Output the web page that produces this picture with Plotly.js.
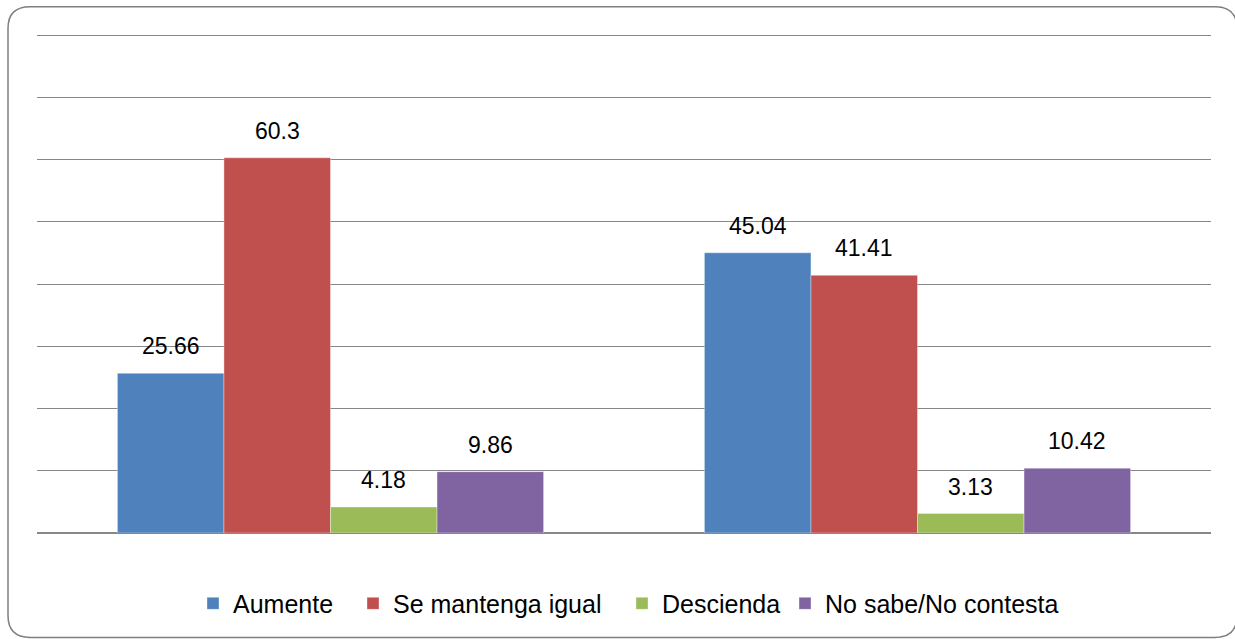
<!DOCTYPE html>
<html>
<head>
<meta charset="utf-8">
<script src="https://cdn.plot.ly/plotly-3.0.1.min.js"></script>
<style>html,body{margin:0;padding:0;background:#fff;}#chart{width:1235px;height:639px;}</style>
</head>
<body>
<div id="chart"></div>
<script>
const categories = ["Grupo 1", "Grupo 2"];
const seriesNames = ["Aumente", "Se mantenga igual", "Descienda", "No sabe/No contesta"];
const aumente = [25.66, 45.04];
const mantenga = [60.3, 41.41];
const descienda = [4.18, 3.13];
const noSabe = [9.86, 10.42];
const seriesValues = [aumente, mantenga, descienda, noSabe];
const gridVals = [0, 10, 20, 30, 40, 50, 60, 70, 80];
const colors = ["#4F81BD", "#C0504D", "#9BBB59", "#8064A2"];

const W = 1235, H = 639;
const M = {l: 37, r: 24, t: 29, b: 103};
const plotW = W - M.l - M.r, plotH = H - M.t - M.b;
const yMax = 81;
const bargap = 0.274;
const barPx = plotW / categories.length * (1 - bargap) / seriesNames.length;
const FONT = "Liberation Sans, Arial, sans-serif";
const px = p => (p - M.l) / plotW;
const py = p => (H - M.b - p) / plotH;

// legend swatch left edges (px) in the reference
const legendLeft = [212, 372, 641, 804];
const legendIds = ["legend", "legend2", "legend3", "legend4"];

const traces = seriesNames.map((name, i) => ({
  type: "bar",
  name: name,
  x: categories,
  y: seriesValues[i],
  legend: legendIds[i],
  marker: {color: colors[i], line: {color: "rgba(255,255,255,0.6)", width: 0.6}},
  hoverinfo: "y"
}));

const annotations = [];
seriesValues.forEach((vals, s) => {
  vals.forEach((v, c) => {
    annotations.push({
      x: categories[c], y: v, xref: "x", yref: "y",
      xshift: (s - (seriesNames.length - 1) / 2) * barPx,
      yshift: 12, yanchor: "bottom", xanchor: "center",
      text: String(v), showarrow: false,
      font: {family: FONT, size: 23, color: "#000"}
    });
  });
});

// rounded frame in paper coordinates
const fx0 = 8, fx1 = 1237, fy0 = 6.5, fy1 = 641, r = 22;
const framePath = [
  "M", px(fx0 + r), py(fy0),
  "L", px(fx1 - r), py(fy0),
  "Q", px(fx1), py(fy0), px(fx1), py(fy0 + r),
  "L", px(fx1), py(fy1 - r),
  "Q", px(fx1), py(fy1), px(fx1 - r), py(fy1),
  "L", px(fx0 + r), py(fy1),
  "Q", px(fx0), py(fy1), px(fx0), py(fy1 - r),
  "L", px(fx0), py(fy0 + r),
  "Q", px(fx0), py(fy0), px(fx0 + r), py(fy0), "Z"
].join(" ");

const layout = {
  width: W, height: H,
  margin: M,
  paper_bgcolor: "#fff", plot_bgcolor: "#fff",
  barmode: "group", bargap: bargap, bargroupgap: 0,
  showlegend: true,
  xaxis: {showticklabels: false, showgrid: false, zeroline: false, showline: false, ticks: ""},
  yaxis: {range: [0, yMax], tickvals: gridVals, showticklabels: false, showgrid: true,
          gridcolor: "#878787", gridwidth: 1, zeroline: true, zerolinecolor: "#878787", zerolinewidth: 1.5, ticks: ""},
  annotations: annotations,
  shapes: [{type: "path", xref: "paper", yref: "paper", path: framePath,
            line: {color: "#7f7f7f", width: 1.5}, fillcolor: "rgba(0,0,0,0)", layer: "above"}]
};
legendIds.forEach((id, i) => {
  layout[id] = {
    orientation: "h", x: px(legendLeft[i] - 19), xanchor: "left", y: py(607), yanchor: "middle",
    font: {family: FONT, size: 25, color: "#000"}, bgcolor: "rgba(0,0,0,0)", borderwidth: 0
  };
});

Plotly.newPlot("chart", traces, layout, {displayModeBar: false, staticPlot: true});
</script>
</body>
</html>
